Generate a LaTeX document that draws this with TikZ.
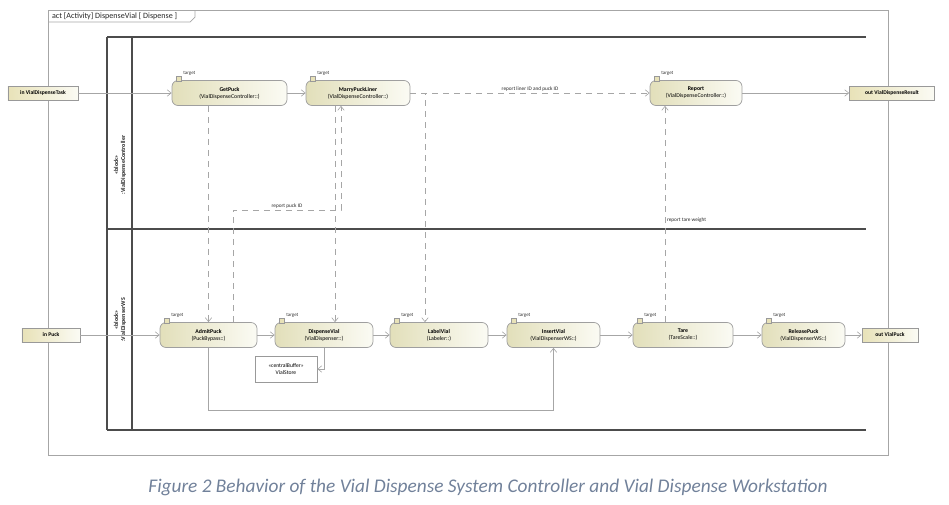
\documentclass[tikz,border=0pt]{standalone}
\usepackage{fontspec}
\setmainfont{Carlito}
\usetikzlibrary{arrows.meta, positioning}
\definecolor{actleft}{HTML}{E2DFBA}
\definecolor{actright}{HTML}{FBFBF4}
\definecolor{pinleft}{HTML}{E8E2B8}
\definecolor{capblue}{HTML}{71819A}

\begin{document}
\begin{tikzpicture}[
    x=0.2mm, y=-0.2mm,
    action/.style={rectangle, draw=gray!75, left color=actleft, right color=actright, rounded corners=1.2mm, minimum height=5mm, inner sep=0.5pt, align=center, font=\fontsize{3.3}{4}\selectfont},
    pinbox/.style={rectangle, draw=gray!80, left color=pinleft, right color=actright, minimum height=2.8mm, inner sep=0.5pt, font=\bfseries\fontsize{3.2}{3.8}\selectfont},
    buffer/.style={rectangle, draw=gray!80, fill=white, minimum width=12.4mm, minimum height=5.2mm, inner sep=0.5pt, align=center, font=\fontsize{3.2}{3.9}\selectfont},
    tgt/.style={rectangle, draw=gray!80, fill=pinleft, minimum size=1mm, inner sep=0pt},
    tlabel/.style={font=\fontsize{2.8}{3.2}\selectfont, text=black!80, inner sep=0.3pt},
    flow/.style={-{Straight Barb[length=0.8mm, width=1.3mm]}, draw=gray!70, line width=0.35pt},
    dep/.style={flow, dash pattern=on 1.2mm off 1mm},
    lane/.style={draw=black!70, line width=1pt},
    note/.style={font=\fontsize{3}{3.4}\selectfont, text=black!85, inner sep=1pt}
]
\useasboundingbox (0,0) rectangle (949,504);

% Frame
\draw[gray!70, line width=0.4pt] (48,10) rectangle (888,455);
\draw[gray!70, line width=0.4pt] (48,22) -- (190,22) -- (195,17) -- (195,10);
\node[note, anchor=west, font=\fontsize{4.6}{5}\selectfont] (frame) at (50,16) {act [Activity] DispenseVial [ Dispense ]};

% Swimlanes
\draw[lane] (107,37) -- (866,37);
\draw[lane] (107,229) -- (866,229);
\draw[lane] (107,430) -- (866,430);
\draw[lane] (107,37) -- (107,430);
\draw[lane] (132,37) -- (132,430);
\node[note, rotate=90, align=center, font=\bfseries\fontsize{3.4}{4}\selectfont] (lanetop) at (120,165) {«block»\\:VialDispenseController};
\node[note, rotate=90, align=center, font=\bfseries\fontsize{3.4}{4}\selectfont] (lanebot) at (120,320) {«block»\\:VialDispenserWS};

% Controller actions
\node[pinbox, minimum width=14mm] (task) at (43,93) {in VialDispenseTask};
\node[action, minimum width=23mm] (gp) at (229.5,93) {\textbf{GetPuck}\\(VialDispenseController::)};
\node[action, minimum width=20.8mm] (mp) at (358,93) {\textbf{MarryPuckLiner}\\(VialDispenseController::)};
\node[action, minimum width=18.4mm] (rp) at (696,93) {\textbf{Report}\\(VialDispenseController::)};
\node[pinbox, minimum width=17mm] (result) at (892,93) {out VialDispenseResult};

% Workstation actions
\node[pinbox, minimum width=11.6mm] (puck) at (51,335) {in Puck};
\node[action, minimum width=19.4mm] (ap) at (208.5,335) {\textbf{AdmitPuck}\\(PuckBypass::)};
\node[action, minimum width=19.6mm] (dv) at (324,335) {\textbf{DispenseVial}\\(VialDispenser::)};
\node[action, minimum width=19.6mm] (lv) at (439,335) {\textbf{LabelVial}\\(Labeler::)};
\node[action, minimum width=18.6mm] (iv) at (553.5,335) {\textbf{InsertVial}\\(VialDispenserWS::)};
\node[action, minimum width=20mm] (tr) at (683,335) {\textbf{Tare}\\(TareScale::)};
\node[action, minimum width=16.6mm] (rl) at (803.5,335) {\textbf{ReleasePuck}\\(VialDispenserWS::)};
\node[pinbox, minimum width=11.2mm] (vialpuck) at (890,335) {out VialPuck};
\node[buffer] (buf) at (286,369) {«centralBuffer»\\VialStore};

% Target pins
\foreach \n in {gp, mp, rp, ap, dv, lv, iv, tr, rl} {
  \node[tgt] (\n-t) at ([xshift=1.4mm, yshift=0.3mm]\n.north west) {};
  \node[tlabel, anchor=south west] (\n-tl) at ([xshift=0.2mm]\n-t.north east) {target};
}

% Helper coordinates
\coordinate (loopy) at (0,410);
\coordinate (pid) at (233,210);
\coordinate (dvx) at (335,0);
\coordinate (mpx) at (341,0);
\coordinate (lvx) at (425,0);
\coordinate (trx) at (665,0);

% Flows
\draw[flow] (task) -- (gp);
\draw[flow] (gp) -- (mp);
\draw[flow] (rp) -- (result);
\draw[flow] (puck) -- (ap);
\draw[flow] (ap) -- (dv);
\draw[flow] (dv) -- (lv);
\draw[flow] (lv) -- (iv);
\draw[flow] (iv) -- (tr);
\draw[flow] (tr) -- (rl);
\draw[flow] (rl) -- (vialpuck);
\draw[flow] (dv.south) |- (buf.east);
\draw[flow] (ap.south) -- (ap.south |- loopy) -| (iv.south);

% Dependencies between lanes
\draw[dep] (ap |- gp.south) -- (ap.north);
\draw[dep] (ap.north -| pid) -- (pid) -- (pid -| mpx) node[note, midway, above] {report puck ID} -- (mp.south -| mpx);
\draw[dep] (mp.south -| dvx) -- (dv.north -| dvx);
\draw[dep] (mp.east) -- (rp.west) node[note, pos=0.5, above] {report liner ID and puck ID};
\draw[dep] (mp.east) -- (mp.east -| lvx) -- (lv.north -| lvx);
\draw[dep] (tr.north -| trx) -- (rp.south -| trx) node[note, pos=0.47, right] {report tare weight};

% Caption
\node[font=\itshape\fontsize{11}{13}\selectfont, text=capblue] (cap) at (488,487) {Figure 2 Behavior of the Vial Dispense System Controller and Vial Dispense Workstation};

\end{tikzpicture}
\end{document}
